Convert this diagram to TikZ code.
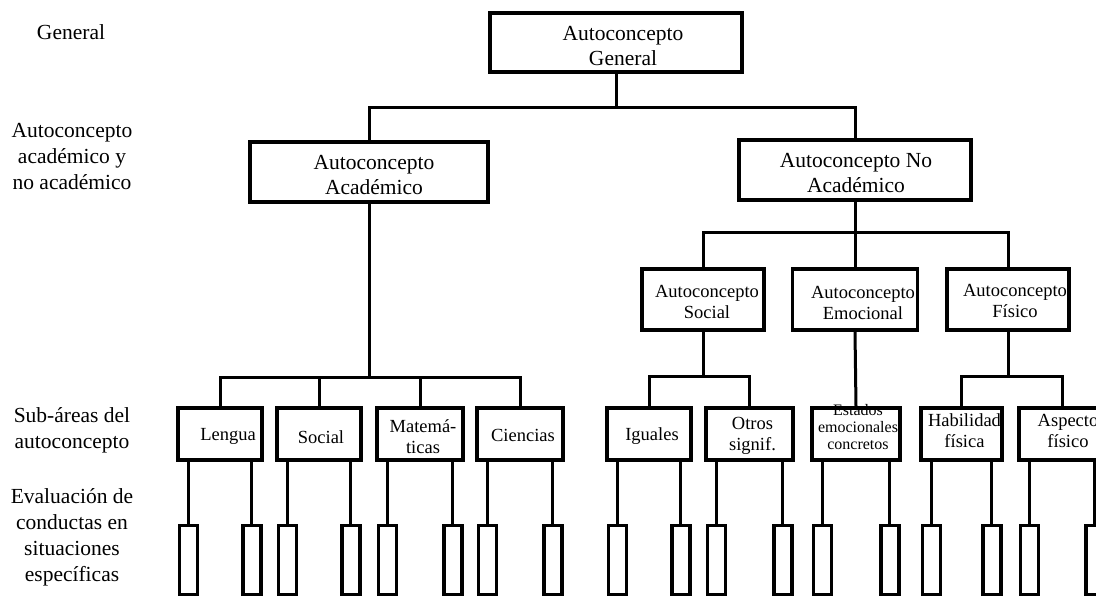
\documentclass[tikz,border=0pt]{standalone}
\usepackage{fontspec}
\setmainfont{Liberation Serif}
\usetikzlibrary{calc}
\begin{document}
\begin{tikzpicture}[x=1pt,y=-1pt,
  box/.style 2 args={draw, line width=3.6pt, minimum width=#1pt, minimum height=#2pt, inner sep=0pt},
  leaf/.style={draw, line width=3.4pt, minimum width=18pt, minimum height=69pt, inner sep=0pt},
  conn/.style={line width=3pt},
  big/.style={align=center, inner sep=0pt, font=\fontsize{21.5}{25}\selectfont},
  mid/.style={align=center, inner sep=0pt, font=\fontsize{18.5}{21}\selectfont},
  small/.style={align=center, inner sep=0pt, font=\fontsize{16}{17}\selectfont},
  side/.style={align=center, inner sep=0pt, font=\fontsize{21.5}{26}\selectfont}]
\useasboundingbox (0,0) rectangle (1096,596);
\clip (0,0) rectangle (1096,596);

% side labels
\node[side] (lg) at (71,32) {General};
\node[side] (la) at (72,157) {Autoconcepto\\académico y\\no académico};
\node[side] (ls) at (72,430) {Sub-áreas del\\autoconcepto};
\node[side] (le) at (72,537) {Evaluación de\\conductas en\\situaciones\\específicas};

% level 1
\node[box={252}{59}, label={[big, xshift=7pt, yshift=-3.5pt]center:{Autoconcepto\\General}}] (gen) at (616,42.5) {};
% level 2
\node[box={238}{60}, label={[big, xshift=5pt, yshift=-3.5pt]center:{Autoconcepto\\Académico}}] (acad) at (369,172) {};
\node[box={232}{60}, label={[big, xshift=1pt, yshift=-3pt]center:{Autoconcepto No\\Académico}}] (noac) at (855,170) {};
\coordinate (j1) at (616,108);
\draw[conn] (gen.south) -- (j1);
\draw[conn] (acad.north) |- (j1) -| (noac.north);

% level 3
\node[box={122}{61}, label={[mid, xshift=4pt, yshift=-2pt]center:{Autoconcepto\\Social}}] (soc) at (703,299.5) {};
\node[box={125}{61}, label={[mid, xshift=8pt, yshift=-3.5pt]center:{Autoconcepto\\Emocional}}] (emo) at (855,299.5) {};
\node[box={122}{61}, label={[mid, xshift=7pt, yshift=-1pt]center:{Autoconcepto\\Físico}}] (fis) at (1008,299.5) {};
\coordinate (j2) at (855,233);
\draw[conn] (noac.south) -- (j2);
\draw[conn] (soc.north) |- (j2) -| (fis.north);
\draw[conn] (j2) -- (emo.north);

% sub-areas
\node[box={84}{52}, label={[mid, xshift=8pt, yshift=-2pt]center:{Lengua}}] (leng) at (220,434) {};
\node[box={84}{52}, label={[mid, xshift=2pt, yshift=-3pt]center:{Social}}] (sco) at (319,434) {};
\node[box={86}{52}, label={[mid, xshift=3pt, yshift=-2.5pt]center:{Matemá-\\ticas}}] (mat) at (420,434) {};
\node[box={86}{52}, label={[mid, xshift=3pt, yshift=-1pt]center:{Ciencias}}] (cie) at (520,434) {};
\node[box={84}{52}, label={[mid, xshift=3pt, yshift=-2pt]center:{Iguales}}] (igu) at (649,434) {};
\node[box={87}{52}, label={[mid, xshift=3pt, yshift=-2pt]center:{Otros\\signif.}}] (otr) at (749.5,434) {};
\node[box={88}{52}, label={[small, xshift=2pt, yshift=7pt]center:{Estados\\emocionales\\concretos}}] (est) at (856,434) {};
\node[box={81}{52}, label={[mid, xshift=3pt, yshift=3pt]center:{Habilidad\\física}}] (hab) at (961.5,434) {};
\node[box={86}{52}, label={[mid, xshift=6pt, yshift=3pt]center:{Aspecto\\físico}}] (asp) at (1062,434) {};

\coordinate (j3) at (369,377);
\draw[conn] (acad.south) -- (j3);
\draw[conn] (leng.north) |- (j3) -| (cie.north);
\draw[conn] (sco.north) -- (sco.north |- j3);
\draw[conn] (mat.north) -- (mat.north |- j3);

\coordinate (j4) at (703,376);
\draw[conn] (soc.south) -- (j4);
\draw[conn] (igu.north) |- (j4) -| (otr.north);

\draw[conn] (emo.south) -- (est.north);

\coordinate (j5) at (1008,376);
\draw[conn] (fis.south) -- (j5);
\draw[conn] (hab.north) |- (j5) -| (asp.north);

% leaves
\foreach \b in {leng,sco,mat,cie,igu,otr,est,hab,asp} {
  \node[leaf, anchor=north] (\b-l) at ($(\b.south west)+(12,62)$) {};
  \node[leaf, anchor=north] (\b-r) at ($(\b.south east)+(-12,62)$) {};
  \draw[conn] (\b-l.north) -- (\b-l.north |- \b.south);
  \draw[conn] (\b-r.north) -- (\b-r.north |- \b.south);
}
\end{tikzpicture}
\end{document}
